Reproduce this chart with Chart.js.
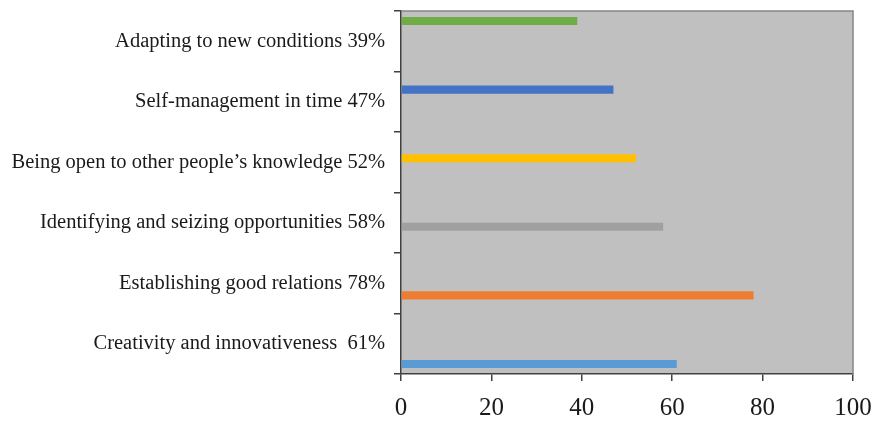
<!doctype html>
<html lang="en">
  <head>
    <meta charset="utf-8">
    <title>Skills chart</title>
    <script src="https://cdn.jsdelivr.net/npm/chart.js@4.4.0/dist/chart.umd.min.js"></script>
    <style>
      body { margin: 0; background: #fff; }
      #wrap { width: 877px; height: 428px; }
    </style>
  </head>

  <body>
    <div id="wrap">
      <canvas id="skills" width="877" height="428"></canvas>
    </div>
  </body>

  <script>
    // categories, top to bottom
    var skills = [
      "Adapting to new conditions 39%",
      "Self-management in time 47%",
      "Being open to other people\u2019s knowledge 52%",
      "Identifying and seizing opportunities 58%",
      "Establishing good relations 78%",
      "Creativity and innovativeness  61%"
    ];
    var values = [39, 47, 52, 58, 78, 61];
    var colors = ["#70ad47", "#4472c4", "#ffc000", "#a0a0a0", "#ed7d31", "#5b9bd5"];
    var xTicks = [0, 20, 40, 60, 80, 100];

    // one series per skill, so every bar sits in its own slot like the original
    var datasets = [];
    for (var i = 0; i < skills.length; i++) {
      var d = [];
      for (var j = 0; j < skills.length; j++) d.push(j == i ? values[i] : null);
      datasets.push({
        label: skills[i],
        data: d,
        backgroundColor: colors[i],
        barPercentage: 1.0,
        categoryPercentage: 0.8
      });
    }

    var plotBox = {
      id: 'plotBox',
      beforeDraw: function(chart) {
        var a = chart.chartArea, c = chart.ctx;
        c.save();
        c.fillStyle = '#c0c0c0';
        c.fillRect(a.left, a.top, a.right - a.left, a.bottom - a.top);
        c.restore();
      },
      afterDraw: function(chart) {
        var a = chart.chartArea, c = chart.ctx;
        c.save();
        c.strokeStyle = '#858585';
        c.lineWidth = 1.5;
        c.beginPath();
        c.moveTo(a.left, a.top);
        c.lineTo(a.right, a.top);
        c.lineTo(a.right, a.bottom);
        c.stroke();
        c.restore();
      }
    };

    var ctx = document.getElementById('skills').getContext('2d');
    new Chart(ctx, {
      type: 'bar',
      data: { labels: skills, datasets: datasets },
      options: {
        indexAxis: 'y',
        responsive: false,
        animation: false,
        layout: { padding: { top: 11, right: 24, left: 0, bottom: 0 } },
        plugins: { legend: { display: false }, tooltip: { enabled: false } },
        scales: {
          x: {
            min: 0, max: 100,
            afterBuildTicks: function(ax) { ax.ticks = xTicks.map(function(v) { return { value: v }; }); },
            afterFit: function(ax) { ax.height = 54; ax.paddingLeft = 0; ax.paddingRight = 0; },
            grid: { drawOnChartArea: false, tickLength: 7, color: '#404040', lineWidth: 1.5 },
            border: { color: '#404040', width: 1.5 },
            ticks: { color: '#1a1a1a', padding: 12, font: { family: 'Liberation Serif', size: 25 } }
          },
          y: {
            afterFit: function(ax) { ax.width = 401; ax.paddingTop = 0; ax.paddingBottom = 0; },
            grid: { drawOnChartArea: false, tickLength: 7, color: '#404040', lineWidth: 1.5, offset: true },
            border: { color: '#404040', width: 1.5 },
            ticks: { color: '#1a1a1a', padding: 9, font: { family: 'Liberation Serif', size: 20.5 } }
          }
        }
      },
      plugins: [plotBox]
    });
  </script>
</html>
